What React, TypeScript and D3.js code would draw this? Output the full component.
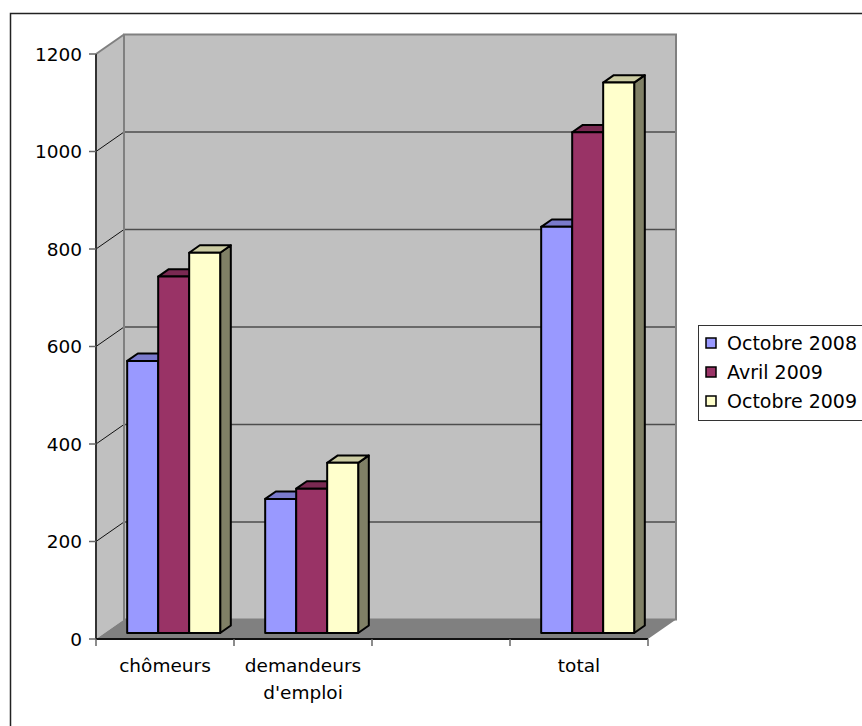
import React from "react";
import * as d3 from "d3";

const categories = ["chômeurs", "demandeurs d'emploi", "", "total"];
const seriesNames = ["Octobre 2008", "Avril 2009", "Octobre 2009"];
const octobre2008 = [558, 275, null, 833];
const avril2009 = [731, 296, null, 1027];
const octobre2009 = [780, 349, null, 1129];
const yTicks = [0, 200, 400, 600, 800, 1000, 1200];
const seriesColors = ["#9999FF", "#993366", "#FFFFCC"];

const W = 862;
const H = 726;
const FONT = "'DejaVu Sans', Verdana, sans-serif";

export default function App() {
  const series = [octobre2008, avril2009, octobre2009];
  const x0 = 96;
  const x1 = 648;
  const y = d3.scaleLinear().domain([0, 1200]).range([639, 54]);
  const x = d3.scaleBand<string>().domain(categories.map((c, i) => String(i))).range([x0, x1]).paddingInner(0).paddingOuter(0);
  const DX = 28;
  const DY = -19.5;
  const fFront = 0.31;
  const fBack = 0.69;
  const bw = x.bandwidth();
  const groupW = 93;
  const xs = d3.scaleBand<number>().domain([0, 1, 2]).range([0, groupW]);
  const pts = (p: number[][]) => p.map((q) => q.join(",")).join(" ");

  const bars: React.ReactNode[] = [];
  categories.forEach((c, ci) => {
    series.forEach((s, si) => {
      const v = s[ci];
      if (v == null) return;
      const bx = (x(String(ci)) as number) + (bw - groupW) / 2 + (xs(si) as number) + DX * fFront;
      const w = xs.bandwidth();
      const yb = y(0) + DY * fFront;
      const yt = y(v) + DY * fFront;
      const ddx = DX * (fBack - fFront);
      const ddy = DY * (fBack - fFront);
      const col = d3.rgb(seriesColors[si]);
      const top = d3.rgb(col.r * 0.8, col.g * 0.8, col.b * 0.8).toString();
      const side = d3.rgb(col.r * 0.5, col.g * 0.5, col.b * 0.5).toString();
      bars.push(
        <g key={`b${ci}-${si}`} stroke="#000" strokeWidth={2} strokeLinejoin="round">
          <polygon points={pts([[bx + w, yb], [bx + w + ddx, yb + ddy], [bx + w + ddx, yt + ddy], [bx + w, yt]])} fill={side} />
          <polygon points={pts([[bx, yt], [bx + ddx, yt + ddy], [bx + w + ddx, yt + ddy], [bx + w, yt]])} fill={top} />
          <rect x={bx} y={yt} width={w} height={yb - yt} fill={seriesColors[si]} />
        </g>
      );
    });
  });

  return (
    <svg width={W} height={H} style={{ position: "absolute", left: 0, top: 0, background: "#fff" }} fontFamily={FONT}>
      <rect x={10.5} y={13.5} width={900} height={800} fill="#fff" stroke="#222" strokeWidth={1.5} />
      {/* side wall */}
      <polygon points={pts([[x0, y(0)], [x0, y(1200)], [x0 + DX, y(1200) + DY], [x0 + DX, y(0) + DY]])} fill="#C0C0C0" />
      {/* back wall */}
      <rect x={x0 + DX} y={y(1200) + DY} width={x1 - x0} height={y(0) - y(1200)} fill="#C0C0C0" stroke="#808080" strokeWidth={2} />
      {/* floor */}
      <polygon points={pts([[x0, y(0)], [x1, y(0)], [x1 + DX, y(0) + DY], [x0 + DX, y(0) + DY]])} fill="#808080" />
      {/* gridlines */}
      {yTicks.filter((t) => t > 0 && t < 1200).map((t) => (
        <g key={`g${t}`}>
          <line x1={x0 + DX} x2={x1 + DX} y1={y(t) + DY} y2={y(t) + DY} stroke="#4d4d4d" strokeWidth={1.5} />
          <line x1={x0} x2={x0 + DX} y1={y(t)} y2={y(t) + DY} stroke="#111" strokeWidth={1} />
        </g>
      ))}
      <line x1={x0} x2={x0 + DX} y1={y(1200)} y2={y(1200) + DY} stroke="#808080" strokeWidth={2} />
      <line x1={x0 + DX} x2={x0 + DX} y1={y(1200) + DY} y2={y(0) + DY} stroke="#808080" strokeWidth={2} />
      <line x1={x1 + DX} x2={x1 + DX} y1={y(1200) + DY} y2={y(0) + DY} stroke="#808080" strokeWidth={2} />
      {bars}
      {/* axes */}
      <line x1={x0} x2={x0} y1={y(1200)} y2={y(0)} stroke="#333" strokeWidth={2} />
      <line x1={x0} x2={x1} y1={y(0)} y2={y(0)} stroke="#111" strokeWidth={2} />
      {yTicks.map((t) => (
        <g key={`t${t}`}>
          <line x1={x0 - 7} x2={x0} y1={y(t)} y2={y(t)} stroke="#666" strokeWidth={1.5} />
          <text x={82} y={y(t)} dy="0.36em" textAnchor="end" fontSize={18.5} fill="#000">{t}</text>
        </g>
      ))}
      {categories.map((c, i) => (
        <line key={`ct${i}`} x1={x(String(i))} x2={x(String(i))} y1={y(0)} y2={y(0) + 7} stroke="#666" strokeWidth={1.5} />
      ))}
      <line x1={x1} x2={x1} y1={y(0)} y2={y(0) + 7} stroke="#666" strokeWidth={1.5} />
      {categories.map((c, i) => {
        const words = c.split(" ");
        const cx = (x(String(i)) as number) + bw / 2;
        return (
          <text key={`cl${i}`} x={cx} y={672} textAnchor="middle" fontSize={18.5} fill="#000">
            {words.map((wd, k) => (
              <tspan key={k} x={cx} dy={k === 0 ? 0 : 27}>{wd}</tspan>
            ))}
          </text>
        );
      })}
      {/* legend */}
      <rect x={698.5} y={325.5} width={200} height={95} fill="#fff" stroke="#333" strokeWidth={1} />
      {seriesNames.map((n, i) => (
        <g key={`l${i}`}>
          <rect x={706} y={338 + i * 29} width={10} height={10} fill={seriesColors[i]} stroke="#000" strokeWidth={1.5} />
          <text x={727} y={343 + i * 29} dy="0.36em" fontSize={19} fill="#000">{n}</text>
        </g>
      ))}
    </svg>
  );
}
